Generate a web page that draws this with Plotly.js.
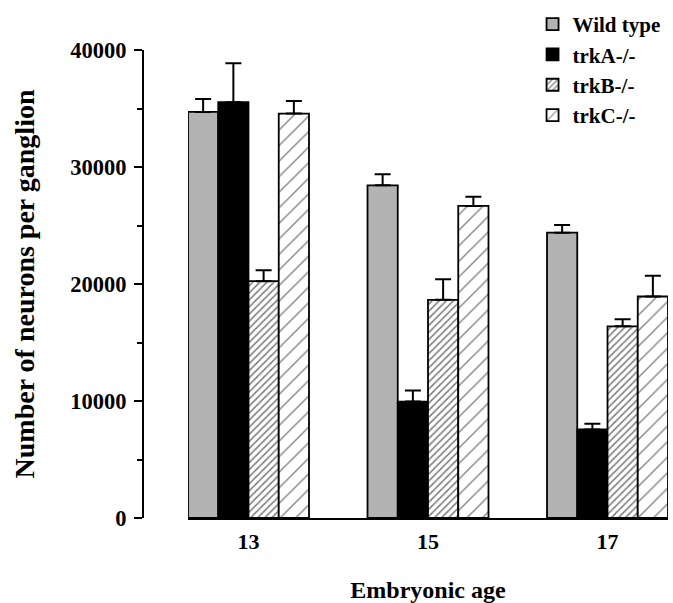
<!DOCTYPE html>
<html>
<head>
<meta charset="utf-8">
<script src="https://cdn.plot.ly/plotly-3.0.1.min.js"></script>
<style>html,body{margin:0;padding:0;background:#fff;}#chart{width:673px;height:603px;}</style>
</head>
<body>
<div id="chart"></div>
<script>
const ages = ['13', '15', '17'];
const agePos = [0, 1, 2];
const wildType = [34710, 28430, 24390];
const wildTypeErr = [1110, 940, 650];
const trkA = [35540, 9950, 7570];
const trkAErr = [3330, 940, 480];
const trkB = [20240, 18650, 16380];
const trkBErr = [940, 1760, 600];
const trkC = [34570, 26670, 18930];
const trkCErr = [1080, 790, 1770];
const seriesNames = ['Wild type', 'trkA-/-', 'trkB-/-', 'trkC-/-'];

const FONT = 'Liberation Serif, Times New Roman, serif';

function errBar(arr) {
  return {type: 'data', symmetric: false, array: arr, arrayminus: arr.map(() => 0),
          color: '#000', thickness: 2, width: 8, visible: true};
}
const outline = {color: '#000', width: 1.8};

const traces = [
  {type: 'bar', name: seriesNames[0], x: agePos, y: wildType, error_y: errBar(wildTypeErr),
   marker: {color: '#b3b3b3', line: outline}},
  {type: 'bar', name: seriesNames[1], x: agePos, y: trkA, error_y: errBar(trkAErr),
   marker: {color: '#000', line: outline}},
  {type: 'bar', name: seriesNames[2], x: agePos, y: trkB, error_y: errBar(trkBErr),
   marker: {color: '#fff', line: outline,
            pattern: {shape: '/', size: 5, solidity: 0.32, fgcolor: '#000', bgcolor: '#fff', fillmode: 'overlay'}}},
  {type: 'bar', name: seriesNames[3], x: agePos, y: trkC, error_y: errBar(trkCErr),
   marker: {color: '#fff', line: outline,
            pattern: {shape: '/', size: 11, solidity: 0.12, fgcolor: '#000', bgcolor: '#fff', fillmode: 'overlay'}}}
];

const layout = {
  width: 673, height: 603,
  margin: {l: 143, r: 5, t: 49, b: 85},
  paper_bgcolor: '#fff', plot_bgcolor: '#fff',
  font: {family: FONT, size: 22, color: '#000'},
  barmode: 'group', bargap: 0.326, bargroupgap: 0,
  showlegend: true,
  legend: {x: 0.742, y: 1.096, xanchor: 'left', yanchor: 'top', bgcolor: 'rgba(0,0,0,0)',
           font: {family: FONT, size: 21, color: '#000', weight: 'bold'}, tracegroupgap: 0, traceorder: 'normal'},
  xaxis: {
    domain: [45/525, 1], range: [-0.337, 2.337],
    tickvals: agePos, ticktext: ages,
    showline: true, linecolor: '#000', linewidth: 2,
    ticks: 'outside', ticklen: 3, tickcolor: 'rgba(0,0,0,0)',
    showgrid: false, zeroline: false,
    tickfont: {family: FONT, size: 22, color: '#000', weight: 'bold'},
    title: {text: 'Embryonic age', standoff: 36, font: {family: FONT, size: 24, color: '#000', weight: 'bold'}}
  },
  yaxis: {
    anchor: 'free', position: 0,
    range: [0, 40000], tickvals: [0, 10000, 20000, 30000, 40000],
    showline: true, linecolor: '#000', linewidth: 2,
    ticks: 'outside', ticklen: 8, tickwidth: 2, tickcolor: '#000',
    minor: {tickvals: [5000, 15000, 25000, 35000], ticks: 'outside', ticklen: 5, tickwidth: 2, tickcolor: '#000'},
    showgrid: false, zeroline: false,
    tickformat: 'd',
    ticklabelstandoff: 3,
    tickfont: {family: FONT, size: 22.5, color: '#000', weight: 'bold'},
    title: {text: 'Number of neurons per ganglion', standoff: 26, font: {family: FONT, size: 28, color: '#000', weight: 'bold'}}
  }
};

Plotly.newPlot('chart', traces, layout, {staticPlot: true, displayModeBar: false});
</script>
</body>
</html>
